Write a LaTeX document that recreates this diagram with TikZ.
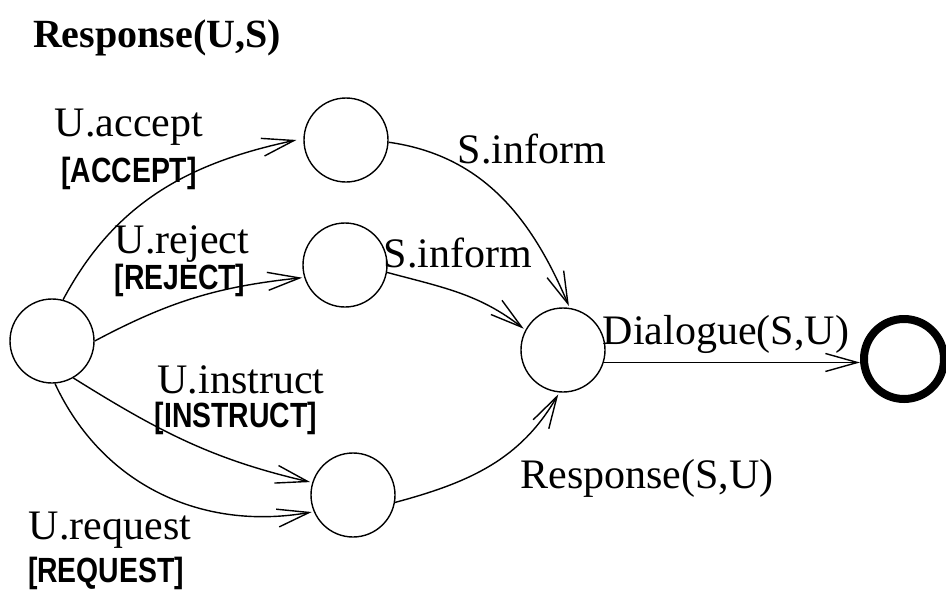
\documentclass[tikz,border=0pt]{standalone}
\usepackage{fontspec}
\setmainfont{Liberation Serif}
\setsansfont{Liberation Sans}
\usepackage{graphicx}
\usetikzlibrary{arrows.meta}
% condensed bold sans for the guard labels
\newcommand{\guardtext}[1]{\scalebox{0.81}[1]{\sffamily\bfseries #1}}

\begin{document}
\begin{tikzpicture}[x=1pt,y=1pt,
  state/.style={circle,draw,line width=1.4pt,minimum size=84pt,inner sep=0pt},
  final/.style={circle,draw,line width=8pt,minimum size=80pt,inner sep=0pt},
  trans/.style={line width=1.4pt,-{Straight Barb[length=32pt,width=18pt]},shorten >=2pt},
  msg/.style={font=\fontsize{42}{48}\selectfont,inner sep=0pt},
  guard/.style={font=\fontsize{35}{40}\selectfont,inner sep=0pt},
  heading/.style={font=\fontsize{40}{46}\selectfont\bfseries,inner sep=0pt}]

\useasboundingbox (0,0) rectangle (946,-590);

% title
\node[heading] (title) at (157,-38) {Response(U,S)};

% states
\node[state] (A) at (52,-341) {};
\node[state] (B) at (346,-140) {};
\node[state] (C) at (345,-265) {};
\node[state] (D) at (353,-495) {};
\node[state] (E) at (563,-350) {};
\node[final] (F) at (904,-359) {};

% transitions out of the initial state
\draw[trans,shorten >=7pt] (A.75) to[out=62,in=192] (B.178);
\draw[trans] (A.0) to[out=28,in=186] (C.197);
\draw[trans] (A.-60) to[out=-32,in=167] (D.163);
\draw[trans] (A.-86) to[out=-65,in=190] (D.203);

% transitions into the merge state
\draw[trans] (B.-3) to[out=-8,in=113] (E.81);
\draw[trans] (C.-10) to[out=-15,in=142] (E.152);
\draw[trans] (D.-10) to[out=15,in=240] (E.-95);

% final transition
\draw[trans,shorten >=0pt] (E.-17) -- (E.-17 -| F.west);

% labels
\node[msg] (la) at (129,-127) {U.accept};
\node[guard] (ga) at (129,-173) {\guardtext{[ACCEPT]}};
\node[msg] (lr) at (182,-244) {U.reject};
\node[guard] (gr) at (180,-280) {\guardtext{[REJECT]}};
\node[msg] (li) at (241,-380) {U.instruct};
\node[guard] (gi) at (236,-418) {\guardtext{[INSTRUCT]}};
\node[msg] (lq) at (110,-530) {U.request};
\node[guard] (gq) at (106,-573) {\guardtext{[REQUEST]}};
\node[msg] (sb) at (532,-149) {S.inform};
\node[msg] (sc) at (458,-253) {S.inform};
\node[msg] (sd) at (647,-478) {Response(S,U)};
\node[msg] (se) at (726,-334) {Dialogue(S,U)};

\end{tikzpicture}
\end{document}
